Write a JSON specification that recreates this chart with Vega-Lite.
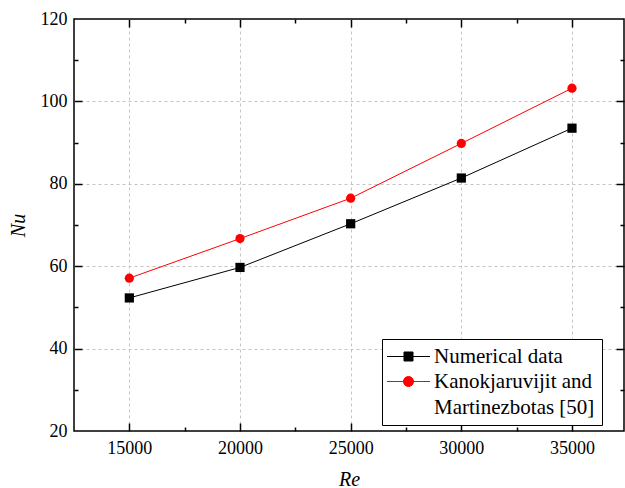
{
  "$schema": "https://vega.github.io/schema/vega-lite/v6.json",
  "width": 550,
  "height": 412,
  "autosize": {"type": "none"},
  "padding": {"left": 74, "top": 19, "right": 1, "bottom": 57},
  "background": "white",
  "config": {
    "font": "Liberation Serif",
    "view": {"stroke": "black", "strokeWidth": 1.5},
    "axis": {
      "labelFont": "Liberation Serif",
      "labelFontSize": 18,
      "labelColor": "black",
      "titleFont": "Liberation Serif",
      "titleFontSize": 20,
      "titleFontStyle": "italic",
      "titleFontWeight": "normal",
      "titleColor": "black",
      "tickColor": "black",
      "tickWidth": 1.5,
      "domain": false,
      "grid": false,
      "gridColor": "#c4c4c4",
      "gridDash": [3, 3],
      "gridWidth": 1
    }
  },
  "data": {
    "values": [
      {"Re": 15000, "Nu": 52.3, "source": "Numerical data"},
      {"Re": 20000, "Nu": 59.7, "source": "Numerical data"},
      {"Re": 25000, "Nu": 70.3, "source": "Numerical data"},
      {"Re": 30000, "Nu": 81.4, "source": "Numerical data"},
      {"Re": 35000, "Nu": 93.5, "source": "Numerical data"},
      {"Re": 15000, "Nu": 57.1, "source": "Kanokjaruvijit and Martinezbotas [50]"},
      {"Re": 20000, "Nu": 66.7, "source": "Kanokjaruvijit and Martinezbotas [50]"},
      {"Re": 25000, "Nu": 76.5, "source": "Kanokjaruvijit and Martinezbotas [50]"},
      {"Re": 30000, "Nu": 89.8, "source": "Kanokjaruvijit and Martinezbotas [50]"},
      {"Re": 35000, "Nu": 103.2, "source": "Kanokjaruvijit and Martinezbotas [50]"}
    ]
  },
  "layer": [
    {
      "mark": {"type": "line", "strokeWidth": 1},
      "encoding": {
        "x": {
          "field": "Re", "type": "quantitative",
          "scale": {"domain": [12500, 37350], "nice": false, "zero": false},
          "axis": {"orient": "bottom", "values": [15000, 20000, 25000, 30000, 35000], "format": "d", "ticks": false, "grid": true, "title": "Re", "labelPadding": 8, "titlePadding": 12}
        },
        "y": {
          "field": "Nu", "type": "quantitative",
          "scale": {"domain": [20, 120], "nice": false, "zero": false},
          "axis": {"orient": "left", "values": [20, 40, 60, 80, 100, 120], "ticks": false, "grid": false, "title": "Nu", "labelPadding": 7, "titlePadding": 12}
        },
        "color": {
          "field": "source", "type": "nominal",
          "scale": {"domain": ["Numerical data", "Kanokjaruvijit and Martinezbotas [50]"], "range": ["black", "#ff0000"]},
          "legend": {
            "orient": "none",
            "legendX": 308,
            "legendY": 320,
            "title": null,
            "labelFont": "Liberation Serif",
            "labelFontSize": 21,
            "labelColor": "black",
            "labelLimit": 400,
            "symbolSize": 100,
            "symbolOffset": 9,
            "labelOffset": 15,
            "padding": 7,
            "rowPadding": 3,
            "strokeColor": "black",
            "fillColor": "white",
            "labelExpr": "datum.label === 'Kanokjaruvijit and Martinezbotas [50]' ? ['Kanokjaruvijit and', 'Martinezbotas [50]'] : datum.label",
            "encode": {
              "symbols": {
                "update": {
                  "shape": {"signal": "datum.value === 'Numerical data' ? 'M-4.3,0H4.3M-0.9,-0.9H0.9V0.9H-0.9Z' : 'M-4.3,0H4.3M1,0A1,1,0,1,1,-1,0A1,1,0,1,1,1,0Z'"},
                  "fill": {"signal": "datum.value === 'Numerical data' ? 'black' : '#ff0000'"},
                  "stroke": {"signal": "datum.value === 'Numerical data' ? 'black' : '#ff0000'"},
                  "strokeWidth": {"value": 1},
                  "opacity": {"value": 1}
                }
              },
              "labels": {"update": {"lineHeight": {"value": 26}}}
            }
          }
        }
      }
    },
    {
      "mark": {"type": "point", "filled": true, "size": 85, "opacity": 1},
      "encoding": {
        "x": {
          "field": "Re", "type": "quantitative",
          "scale": {"domain": [12500, 37350], "nice": false, "zero": false},
          "axis": {"orient": "bottom", "offset": -8, "tickSize": 8, "values": [15000, 20000, 25000, 30000, 35000], "labels": false, "title": null}
        },
        "y": {
          "field": "Nu", "type": "quantitative",
          "scale": {"domain": [20, 120], "nice": false, "zero": false},
          "axis": {"orient": "left", "offset": -8, "tickSize": 8, "values": [40, 60, 80, 100], "labels": false, "title": null}
        },
        "color": {"field": "source", "type": "nominal"},
        "shape": {
          "condition": {"test": "datum.source === 'Numerical data'", "value": "square"},
          "value": "circle"
        }
      }
    },
    {
      "mark": {"type": "point", "opacity": 0},
      "encoding": {
        "x": {
          "field": "Re", "type": "quantitative",
          "scale": {"domain": [12500, 37350], "nice": false, "zero": false},
          "axis": {"orient": "bottom", "offset": -4, "tickSize": 4, "values": [17500, 22500, 27500, 32500], "labels": false, "title": null}
        },
        "y": {
          "field": "Nu", "type": "quantitative",
          "scale": {"domain": [20, 120], "nice": false, "zero": false},
          "axis": {"orient": "left", "offset": -4, "tickSize": 4, "values": [30, 50, 70, 90, 110], "labels": false, "title": null}
        }
      }
    },
    {
      "mark": {"type": "point", "opacity": 0},
      "encoding": {
        "x": {
          "field": "Re", "type": "quantitative",
          "scale": {"domain": [12500, 37350], "nice": false, "zero": false},
          "axis": {"orient": "top", "offset": -8, "tickSize": 8, "values": [15000, 20000, 25000, 30000, 35000], "labels": false, "title": null}
        },
        "y": {
          "field": "Nu", "type": "quantitative",
          "scale": {"domain": [20, 120], "nice": false, "zero": false},
          "axis": {"orient": "right", "offset": -8, "tickSize": 8, "values": [40, 60, 80, 100], "labels": false, "title": null}
        }
      }
    },
    {
      "mark": {"type": "point", "opacity": 0},
      "encoding": {
        "x": {
          "field": "Re", "type": "quantitative",
          "scale": {"domain": [12500, 37350], "nice": false, "zero": false},
          "axis": {"orient": "top", "offset": -4, "tickSize": 4, "values": [17500, 22500, 27500, 32500], "labels": false, "title": null}
        },
        "y": {
          "field": "Nu", "type": "quantitative",
          "scale": {"domain": [20, 120], "nice": false, "zero": false},
          "axis": {"orient": "right", "offset": -4, "tickSize": 4, "values": [30, 50, 70, 90, 110], "labels": false, "title": null}
        }
      }
    },
    {
      "mark": {"type": "point", "opacity": 0},
      "encoding": {
        "x": {
          "field": "Re", "type": "quantitative",
          "scale": {"domain": [12500, 37350], "nice": false, "zero": false},
          "axis": null
        },
        "y": {
          "field": "Nu", "type": "quantitative",
          "scale": {"domain": [20, 120], "nice": false, "zero": false},
          "axis": {"orient": "left", "values": [40, 60, 80, 100], "grid": true, "ticks": false, "labels": false, "title": null}
        }
      }
    }
  ],
  "resolve": {"axis": {"x": "independent", "y": "independent"}}
}
